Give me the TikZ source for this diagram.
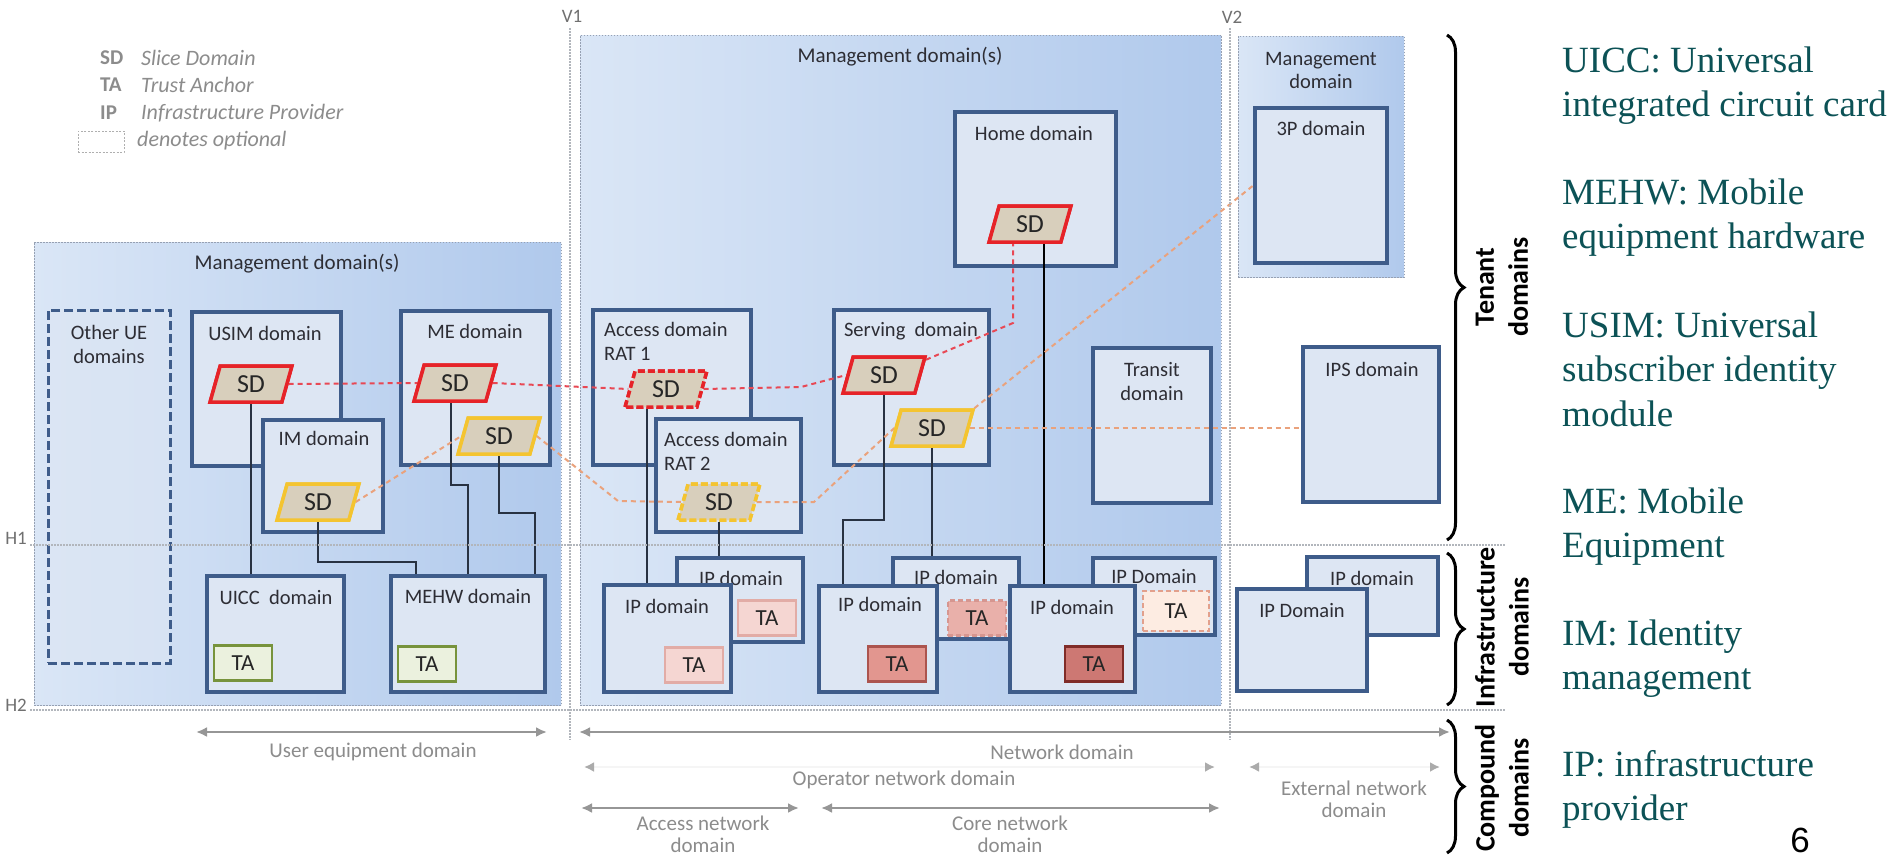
\documentclass[tikz,border=0pt]{standalone}
\usepackage{fontspec}
\setmainfont{Carlito}
\newfontfamily\timesf{Liberation Serif}
\newfontfamily\arialf{Liberation Sans}
\usetikzlibrary{shapes.geometric,fit,arrows.meta,decorations.pathreplacing}

\definecolor{domc}{RGB}{62,92,138}
\definecolor{domf}{RGB}{221,230,243}
\definecolor{mgL}{RGB}{218,230,246}
\definecolor{mgR}{RGB}{176,201,236}
\definecolor{mgB}{RGB}{150,160,178}
\definecolor{guidec}{RGB}{178,182,188}
\definecolor{lblc}{RGB}{45,45,52}
\definecolor{sdf}{RGB}{216,207,188}
\definecolor{sdred}{RGB}{230,35,40}
\definecolor{sdyel}{RGB}{244,196,48}
\definecolor{conc}{RGB}{40,50,66}
\definecolor{rdc}{RGB}{232,72,84}
\definecolor{odc}{RGB}{234,162,124}
\definecolor{grayt}{RGB}{140,140,140}
\definecolor{arrc}{RGB}{150,150,150}
\definecolor{deftc}{RGB}{12,82,86}
\definecolor{tagf}{RGB}{235,241,222}
\definecolor{tagd}{RGB}{119,147,60}
\definecolor{tap1f}{RGB}{245,214,210}
\definecolor{tap1d}{RGB}{226,172,166}
\definecolor{tap2bf}{RGB}{233,176,170}
\definecolor{tap2bd}{RGB}{214,150,144}
\definecolor{tap2ff}{RGB}{226,150,143}
\definecolor{tap2fd}{RGB}{172,84,78}
\definecolor{tap3bf}{RGB}{253,236,226}
\definecolor{tap3bd}{RGB}{226,160,140}
\definecolor{tap3ff}{RGB}{205,120,115}
\definecolor{tap3fd}{RGB}{128,44,40}

\tikzset{
  mgmt/.style={left color=mgL, right color=mgR, draw=mgB, line width=1pt, dash pattern=on 1.5pt off 1.5pt, inner sep=0},
  dom/.style={draw=domc, fill=domf, line width=3.5pt, inner sep=0},
  domopt/.style={draw=domc, fill=domf, fill opacity=0.6, line width=3pt, dash pattern=on 9pt off 4pt, inner sep=0},
  lbl/.style={text=lblc, font=\fontsize{20.5}{24}\selectfont, inner sep=0, align=center},
  sdbase/.style={trapezium, trapezium left angle=75, trapezium right angle=105, trapezium stretches=true, minimum width=82, minimum height=36, inner sep=0, fill=sdf, line width=3.5pt, text=black!85, font=\fontsize{26}{26}\selectfont},
  sdr/.style={sdbase, draw=sdred},
  sdy/.style={sdbase, draw=sdyel},
  sdrd/.style={sdbase, draw=sdred, dash pattern=on 7pt off 3pt},
  sdyd/.style={sdbase, draw=sdyel, dash pattern=on 7pt off 3pt},
  ta/.style={rectangle, minimum width=58, minimum height=35, inner sep=0, line width=2.5pt, font=\fontsize{23}{23}\selectfont, text=black!85},
  tagreen/.style={ta, fill=tagf, draw=tagd},
  tap1/.style={ta, fill=tap1f, draw=tap1d},
  tap2b/.style={ta, fill=tap2bf, draw=tap2bd, dash pattern=on 5pt off 3pt},
  tap2f/.style={ta, fill=tap2ff, draw=tap2fd},
  tap3b/.style={ta, fill=tap3bf, draw=tap3bd, dash pattern=on 5pt off 3pt, minimum width=66, minimum height=40},
  tap3f/.style={ta, fill=tap3ff, draw=tap3fd},
  conn/.style={draw=conc, line width=1.6pt},
  rdash/.style={draw=rdc, line width=2pt, dash pattern=on 5pt off 4pt},
  odash/.style={draw=odc, line width=2pt, dash pattern=on 5pt off 4pt},
  guide/.style={draw=guidec, line width=1.3pt, dash pattern=on 1.5pt off 1.5pt},
  guidelbl/.style={text=grayt!80!black, font=\fontsize{19}{19}\selectfont, inner sep=0},
  legb/.style={anchor=west, text=grayt, font=\bfseries\fontsize{21}{21}\selectfont, inner sep=0},
  legi/.style={anchor=west, text=grayt, font=\itshape\fontsize{22}{22}\selectfont, inner sep=0},
  brc/.style={decorate, decoration={brace, amplitude=17pt}, line width=3pt, draw=black},
  rotlbl/.style={rotate=90, align=center, font=\bfseries\fontsize{28}{34}\selectfont, inner sep=0},
  deft/.style={anchor=base west, text=deftc, font=\timesf\fontsize{37}{44.5}\selectfont, inner sep=0},
  barr/.style={draw=arrc, line width=2.5pt, <->, >={Latex[length=11pt,width=10pt]}},
  garr/.style={draw=black!4, line width=2.5pt, <->, >={Latex[length=10pt,width=10pt,color=arrc!80]}},
  btxt/.style={text=grayt, font=\fontsize{21}{22}\selectfont, inner sep=0, align=center}
}

\begin{document}
\begin{tikzpicture}[x=1pt,y=-1pt]
\useasboundingbox (0,0) rectangle (1895,857);
\fill[white] (0,0) rectangle (1895,857);

% ---------- legend ----------
\node[legb] (lg1) at (100,58) {SD};
\node[legi] (lg1t) at (141,58) {Slice Domain};
\node[legb] (lg2) at (100,85) {TA};
\node[legi] (lg2t) at (141,85) {Trust Anchor};
\node[legb] (lg3) at (100,113) {IP};
\node[legi] (lg3t) at (141,113) {Infrastructure Provider};
\node[draw=grayt!70, line width=1pt, dash pattern=on 2pt off 1.5pt, inner sep=0, fit={(78,131) (124,152)}] (lg4box) {};
\node[legi] (lg4t) at (137,141) {denotes optional};

% ---------- management backgrounds ----------
\node[mgmt, fit={(34,242) (561,705)}] (mgl) {};
\node[mgmt, fit={(580,35) (1221,705)}] (mgm) {};
\node[mgmt, fit={(1238,36) (1404,277)}] (mgr) {};
\node[lbl, font=\fontsize{21}{24}\selectfont] (mgltxt) at (297,264) {Management domain(s)};
\node[lbl, font=\fontsize{21}{24}\selectfont] (mgmtxt) at (900,57) {Management domain(s)};
\node[lbl, font=\fontsize{20.5}{23}\selectfont] (mgrtxt) at (1321,70) {Management\\domain};

% ---------- UE side domains ----------
\node[domopt, fit={(48,310) (170,663)}] (oue) {};
\node[lbl] (ouetxt) at (109,344) {Other UE\\domains};
\node[dom, fit={(192,312) (341,466)}] (usim) {};
\node[lbl] (usimtxt) at (265,333) {USIM domain};
\node[dom, fit={(263,420) (383,532)}] (im) {};
\node[lbl] (imtxt) at (324,438) {IM domain};
\node[dom, fit={(401,311) (550,465)}] (me) {};
\node[lbl] (metxt) at (475,331) {ME domain};
\node[dom, fit={(207,576) (344,692)}] (uicc) {};
\node[lbl] (uicctxt) at (276,597) {UICC\ \ domain};
\node[dom, fit={(391,576) (545,692)}] (mehw) {};
\node[lbl] (mehwtxt) at (468,596) {MEHW domain};

% ---------- network side domains ----------
\node[dom, fit={(955,112) (1116,266)}] (home) {};
\node[lbl] (hometxt) at (1034,133) {Home domain};
\node[dom, fit={(593,310) (751,465)}] (rat1) {};
\node[lbl, anchor=north west, align=left] (rat1txt) at (604,322) {Access domain\\RAT 1};
\node[dom, fit={(656,419) (801,532)}] (rat2) {};
\node[lbl, anchor=north west, align=left] (rat2txt) at (664,432) {Access domain\\RAT 2};
\node[dom, fit={(834,310) (989,465)}] (serv) {};
\node[lbl] (servtxt) at (911,331) {Serving\ \ domain};
\node[dom, fit={(1093,348) (1211,503)}] (transit) {};
\node[lbl] (transittxt) at (1152,382) {Transit\\domain};

\node[dom, fit={(677,558) (803,642)}] (ipb1) {};
\node[lbl] (ipb1txt) at (741,578) {IP domain};
\node[tap1] (tab1) at (767,618) {TA};
\node[dom, fit={(604,585) (731,692)}] (ipf1) {};
\node[lbl] (ipf1txt) at (667,606) {IP domain};
\node[tap1] (taf1) at (694,665) {TA};

\node[dom, fit={(893,558) (1019,639)}] (ipb2) {};
\node[lbl] (ipb2txt) at (956,577) {IP domain};
\node[tap2b] (tab2) at (977,618) {TA};
\node[dom, fit={(819,586) (937,692)}] (ipf2) {};
\node[lbl] (ipf2txt) at (880,604) {IP domain};
\node[tap2f] (taf2) at (897,664) {TA};

\node[dom, fit={(1093,558) (1215,635)}] (ipb3) {};
\node[lbl] (ipb3txt) at (1154,577) {IP Domain};
\node[tap3b] (tab3) at (1176,611) {TA};
\node[dom, fit={(1010,586) (1135,692)}] (ipf3) {};
\node[lbl] (ipf3txt) at (1072,607) {IP domain};
\node[tap3f] (taf3) at (1094,664) {TA};

% ---------- external side ----------
\node[dom, fit={(1255,108) (1387,263)}] (p3) {};
\node[lbl] (p3txt) at (1321,128) {3P domain};
\node[dom, fit={(1303,347) (1439,502)}] (ips) {};
\node[lbl] (ipstxt) at (1372,369) {IPS domain};
\node[dom, fit={(1307,557) (1438,635)}] (ipbr) {};
\node[lbl] (ipbrtxt) at (1372,578) {IP domain};
\node[dom, fit={(1237,589) (1367,691)}] (ipfr) {};
\node[lbl] (ipfrtxt) at (1302,611) {IP Domain};

% ---------- TAs UE ----------
\node[tagreen] (taUicc) at (243,663) {TA};
\node[tagreen] (taMehw) at (427,664) {TA};

% ---------- bend coordinates ----------
\coordinate (b1) at (416,562);
\coordinate (b2) at (468,485);
\coordinate (b3) at (535,513);
\coordinate (b4) at (843,520);
\coordinate (c1) at (647,0);
\coordinate (c2) at (1044,0);
\coordinate (c3) at (451,0);
\coordinate (r1) at (801,387);
\coordinate (r2) at (1013,323);
\coordinate (o1) at (618,501);
\coordinate (o2) at (814,502);

% ---------- SD nodes (for anchors) ----------
\node[sdr] (sdUsim) at (251,384) {SD};
\node[sdr] (sdMeR) at (455,383) {SD};
\node[sdy] (sdMeY) at (499,436) {SD};
\node[sdy] (sdIm) at (318,502) {SD};
\node[sdr] (sdHome) at (1030,224) {SD};
\node[sdrd] (sdRat1) at (666,389) {SD};
\node[sdyd] (sdRat2) at (719,502) {SD};
\node[sdr] (sdServR) at (884,375) {SD};
\node[sdy] (sdServY) at (932,428) {SD};

% ---------- solid connectors ----------
\draw[conn] (sdUsim.south) -- (sdUsim.south |- uicc.north);
\draw[conn] (sdIm.south) |- (b1) -- (b1 |- mehw.north);
\draw[conn] (sdMeR.south -| c3) |- (b2) -- (b2 |- mehw.north);
\draw[conn] (sdMeY.south) |- (b3) -- (b3 |- mehw.north);
\draw[conn] (sdRat1.south -| c1) -- (ipf1.north -| c1);
\draw[conn] (sdRat2.south) -- (sdRat2.south |- ipb1.north);
\draw[conn] (sdServR.south) |- (b4) -- (b4 |- ipf2.north);
\draw[conn] (sdServY.south) -- (sdServY.south |- ipb2.north);
\draw[conn, draw=black] (sdHome.south -| c2) -- (ipf3.north -| c2);

% ---------- dashed slice paths ----------
\draw[rdash] (sdUsim.east) -- (sdMeR.west);
\draw[rdash] (sdMeR.east) -- (sdRat1.west);
\draw[rdash] (sdRat1.east) -- (r1) -- (sdServR.west);
\draw[rdash] (sdServR.20) -- (r2) -- (r2 |- sdHome.south);
\draw[odash] (sdIm.east) -- (sdMeY.west);
\draw[odash] (sdMeY.east) -- (o1) -- (sdRat2.west);
\draw[odash] (sdRat2.east) -- (o2) -- (sdServY.west);
\draw[odash] (sdServY.east) -- (sdServY.east -| ips.west);
\draw[odash] (sdServY.25) -- (p3.west);

% redraw SD shapes on top of the paths
\node[sdr] (sdUsimF) at (sdUsim) {SD};
\node[sdr] (sdMeRF) at (sdMeR) {SD};
\node[sdy] (sdMeYF) at (sdMeY) {SD};
\node[sdy] (sdImF) at (sdIm) {SD};
\node[sdr] (sdHomeF) at (sdHome) {SD};
\node[sdrd] (sdRat1F) at (sdRat1) {SD};
\node[sdyd] (sdRat2F) at (sdRat2) {SD};
\node[sdr] (sdServRF) at (sdServR) {SD};
\node[sdy] (sdServYF) at (sdServY) {SD};

% ---------- guide lines ----------
\coordinate (v1t) at (570,28);  \coordinate (v1b) at (570,740);
\coordinate (v2t) at (1230,28); \coordinate (v2b) at (1230,740);
\coordinate (h1l) at (30,545);  \coordinate (h1r) at (1505,545);
\coordinate (h2l) at (30,710);  \coordinate (h2r) at (1505,710);
\draw[guide] (v1t) -- (v1b);
\draw[guide] (v2t) -- (v2b);
\draw[guide] (h1l) -- (h1r);
\draw[guide] (h2l) -- (h2r);
\node[guidelbl] (v1l) at (572,16) {V1};
\node[guidelbl] (v2l) at (1232,17) {V2};
\node[guidelbl] (h1lb) at (16,538) {H1};
\node[guidelbl] (h2lb) at (16,705) {H2};

% ---------- braces ----------
\coordinate (tb1) at (1447,35);  \coordinate (tb2) at (1447,540);
\coordinate (ib1) at (1447,553); \coordinate (ib2) at (1447,705);
\coordinate (cb1) at (1447,720); \coordinate (cb2) at (1447,853);
\draw[brc] (tb1) -- (tb2);
\draw[brc] (ib1) -- (ib2);
\draw[brc] (cb1) -- (cb2);
\node[rotlbl] (tenl) at (1502,287) {Tenant\\domains};
\node[rotlbl] (infl) at (1502,627) {Infrastructure\\domains};
\node[rotlbl] (coml) at (1502,788) {Compound\\domains};

% ---------- bottom compound domain arrows ----------
\coordinate (ueA) at (196,732);  \coordinate (ueB) at (547,732);
\coordinate (nwA) at (579,732);  \coordinate (nwB) at (1450,732);
\coordinate (opA) at (584,767);  \coordinate (opB) at (1215,767);
\coordinate (exA) at (1249,767); \coordinate (exB) at (1440,767);
\coordinate (acA) at (581,808);  \coordinate (acB) at (799,808);
\coordinate (coA) at (821,808);  \coordinate (coB) at (1220,808);
\draw[barr] (ueA) -- (ueB);
\draw[barr] (nwA) -- (nwB);
\draw[garr] (opA) -- (opB);
\draw[garr] (exA) -- (exB);
\draw[barr] (acA) -- (acB);
\draw[barr] (coA) -- (coB);
\node[btxt] (uetxt) at (373,752) {User equipment domain};
\node[btxt] (nwtxt) at (1062,752) {Network domain};
\node[btxt] (optxt) at (904,780) {Operator network domain};
\node[btxt] (extxt) at (1354,799) {External network\\domain};
\node[btxt] (actxt) at (703,834) {Access network\\domain};
\node[btxt] (cotxt) at (1010,834) {Core network\\domain};

% ---------- definitions on the right ----------
\node[deft] (d1a) at (1562,72) {UICC: Universal};
\node[deft] (d1b) at (1562,116.5) {integrated circuit card};
\node[deft] (d2a) at (1562,204) {MEHW: Mobile};
\node[deft] (d2b) at (1562,248.5) {equipment hardware};
\node[deft] (d3a) at (1562,337) {USIM: Universal};
\node[deft] (d3b) at (1562,381.5) {subscriber identity};
\node[deft] (d3c) at (1562,426) {module};
\node[deft] (d4a) at (1562,513) {ME: Mobile};
\node[deft] (d4b) at (1562,557.5) {Equipment};
\node[deft] (d5a) at (1562,645) {IM: Identity};
\node[deft] (d5b) at (1562,689.5) {management};
\node[deft] (d6a) at (1562,776) {IP: infrastructure};
\node[deft] (d6b) at (1562,820.5) {provider};
\node[anchor=base, font=\arialf\fontsize{35}{35}\selectfont, inner sep=0] (pgno) at (1800,852) {6};
\end{tikzpicture}
\end{document}
